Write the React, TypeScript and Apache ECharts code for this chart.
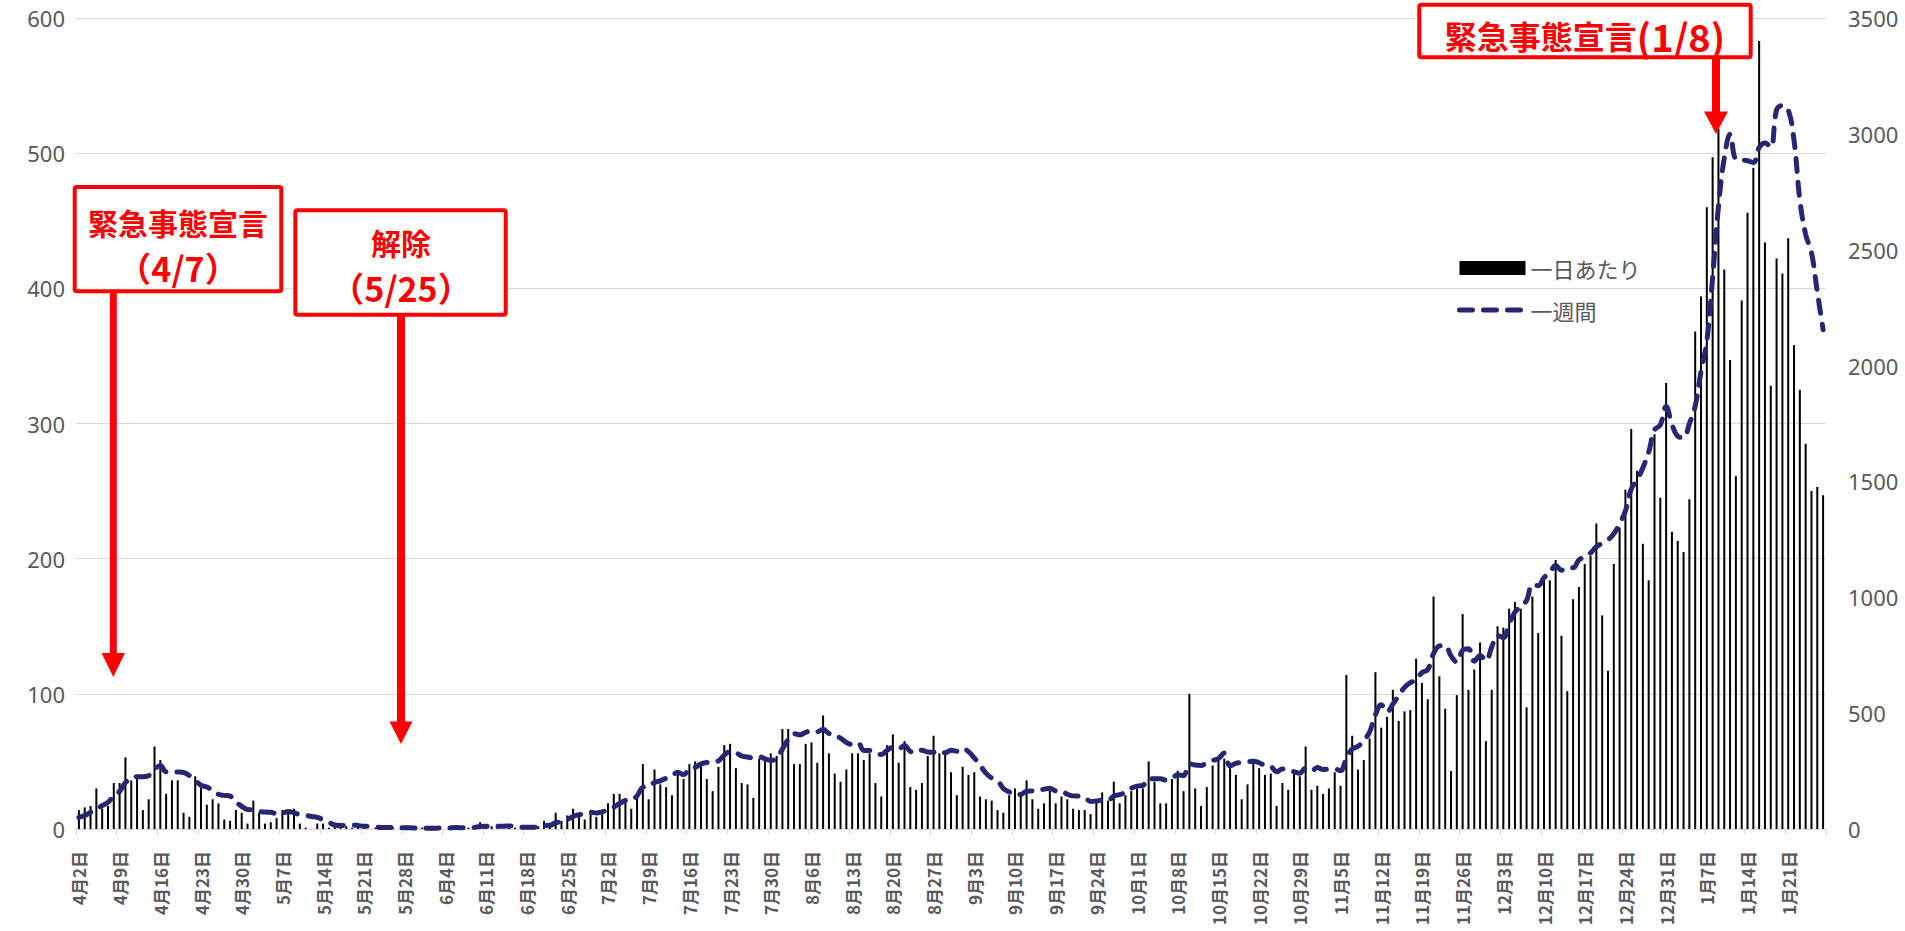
import React, { useEffect, useRef } from "react";
import * as echarts from "echarts";

// Date span: 2020-04-02 .. 2021-01-27 (one category per day)
const monthSpans: [number, number, number][] = [
  [4, 2, 30], [5, 1, 31], [6, 1, 30], [7, 1, 31], [8, 1, 31],
  [9, 1, 30], [10, 1, 31], [11, 1, 30], [12, 1, 31], [1, 1, 27],
];
const categories: string[] = [];
monthSpans.forEach(([m, from, to]) => {
  for (let d = from; d <= to; d++) categories.push(`${m}月${d}日`);
});

// Daily cases (left axis), by month
const dailyApr = [14,16,17,30,15,17,34,34,53,36,37,14,22,61,51,26,36,36,12,9,39,31,18,22,19,7,6,14,12];
const dailyMay = [4,21,12,4,5,8,14,12,15,4,1,0,4,4,1,3,2,2,1,2,1,0,1,0,2,1,0,1,0,0,1];
const dailyJun = [0,1,1,0,2,1,0,1,2,5,1,2,1,0,2,1,1,1,2,2,6,3,12,6,10,15,10,7,12,9];
const dailyJul = [11,19,26,26,20,15,26,48,22,44,33,31,25,42,37,48,50,48,37,28,46,62,63,45,34,33,23,52,53,56,54];
const dailyAug = [74,74,48,48,63,64,49,84,56,41,35,44,56,56,51,56,34,24,62,70,49,65,31,29,34,54,69,56,56,42,25];
const dailySep = [46,40,42,24,22,21,14,12,25,30,25,36,22,15,19,29,19,24,22,15,14,14,11,21,27,21,35,19,25,28];
const dailyOct = [30,30,50,35,19,19,37,43,28,100,30,17,31,47,51,52,45,40,22,33,49,45,40,41,17,34,29,41,39,61,29];
const dailyNov = [32,26,30,42,32,114,69,44,51,67,116,75,83,103,80,87,88,126,108,96,172,113,89,43,99,159,103,118,138,65];
const dailyDec = [103,150,149,163,168,163,90,172,145,184,184,199,143,102,170,179,196,202,226,158,117,196,223,251,296,265,211,184,292,245,330];
const dailyJan = [220,213,205,244,368,394,460,497,518,414,347,261,391,456,489,583,434,328,422,411,437,358,325,285,250,253,247];

// Weekly totals (right axis), by month
const weeklyApr = [50,58,72,86,101,115,143,163,200,219,226,225,230,257,274,247,247,246,244,231,209,189,181,167,150,145,142,117,98];
const weeklyMay = [84,83,76,73,72,66,68,76,70,62,59,54,50,40,29,17,15,16,17,15,12,11,9,7,7,7,5,5,5,4,5];
const weeklyJun = [3,3,4,3,5,6,5,6,7,11,12,12,12,12,13,12,8,8,8,9,15,16,27,32,41,54,62,63,72,69];
const weeklyJul = [74,83,94,110,123,126,143,180,183,201,208,219,229,245,234,260,266,281,287,290,294,319,334,329,315,311,306,312,303,296,305];
const weeklyAug = [345,386,411,407,417,425,420,430,412,405,392,373,365,372,339,339,332,321,339,353,346,360,335,330,340,332,331,338,329,340,336];
const weeklySep = [348,334,307,275,241,220,209,175,160,148,149,163,164,165,172,176,165,164,150,143,142,137,119,121,124,123,143,148,159,176];
const weeklyOct = [185,188,217,217,217,211,220,233,231,281,276,274,286,296,304,328,273,283,288,290,292,286,274,270,247,259,255,247,241,262,250];
const weeklyNov = [265,257,258,259,252,305,345,357,382,419,493,536,505,539,575,611,632,642,675,688,757,790,792,747,720,771,778,724,749,725];
const weeklyDec = [785,836,826,886,936,961,986,1055,1050,1085,1106,1137,1117,1129,1127,1161,1173,1191,1218,1233,1248,1274,1318,1373,1467,1506,1559,1626,1722,1744,1823];
const weeklyJan = [1747,1695,1689,1749,1825,1974,2104,2381,2686,2895,2998,2891,2888,2884,2876,2941,2961,2942,3103,3123,3104,2973,2715,2566,2488,2319,2155];

const daily = [
  ...dailyApr, ...dailyMay, ...dailyJun, ...dailyJul, ...dailyAug,
  ...dailySep, ...dailyOct, ...dailyNov, ...dailyDec, ...dailyJan,
];
const weekly = [
  ...weeklyApr, ...weeklyMay, ...weeklyJun, ...weeklyJul, ...weeklyAug,
  ...weeklySep, ...weeklyOct, ...weeklyNov, ...weeklyDec, ...weeklyJan,
];

const seriesNames = ["一日あたり", "一週間"];

const RED = "#FF0000";
const GRAY = "#595959";
const NAVY = "#262673";
const JP = '"Noto Sans CJK JP", "Noto Sans", sans-serif';
const NUM = '"Noto Sans", "Open Sans", sans-serif';
const DASH = [13, 11];

function arrow(cx: number, y0: number, headTop: number, tip: number, shaftW: number, headW: number) {
  return [
    {
      type: "rect",
      shape: { x: cx - shaftW / 2, y: y0, width: shaftW, height: headTop - y0 + 1 },
      style: { fill: RED },
      z: 100,
    },
    {
      type: "polygon",
      shape: { points: [[cx - headW / 2, headTop], [cx + headW / 2, headTop], [cx, tip]] },
      style: { fill: RED },
      z: 100,
    },
  ];
}

function box(x: number, y: number, w: number, h: number) {
  return {
    type: "rect",
    shape: { x, y, width: w, height: h, r: 2 },
    style: { fill: "#ffffff", stroke: RED, lineWidth: 4 },
    z: 100,
  };
}

function label(x: number, y: number, text: string, size: number) {
  return {
    type: "text",
    x,
    y,
    style: {
      text,
      fill: RED,
      fontSize: size,
      fontWeight: "bold",
      fontFamily: JP,
      align: "center",
      verticalAlign: "middle",
    },
    z: 101,
  };
}

export default function App() {
  const ref = useRef<HTMLDivElement>(null);

  useEffect(() => {
    if (!ref.current) return;
    const chart = echarts.init(ref.current, undefined, { renderer: "svg" });
    chart.setOption({
      animation: false,
      backgroundColor: "#ffffff",
      grid: { left: 76, right: 79, top: 18, bottom: 102, containLabel: false },
      legend: {
        orient: "vertical",
        left: 1452,
        top: 252,
        itemWidth: 66,
        itemHeight: 14,
        itemGap: 20,
        data: [
          { name: seriesNames[0], icon: "rect" },
          {
            name: seriesNames[1],
            itemStyle: { color: "rgba(0,0,0,0)", borderColor: "rgba(0,0,0,0)", borderWidth: 0 },
            lineStyle: { color: NAVY, width: 5, type: DASH, cap: "round" },
          },
        ],
        textStyle: { fontSize: 22, color: GRAY, fontFamily: JP },
      },
      xAxis: {
        type: "category",
        data: categories,
        boundaryGap: true,
        axisLine: { lineStyle: { color: "#d9d9d9", width: 1 } },
        axisTick: { show: true, interval: 6, length: 6, lineStyle: { color: "#d9d9d9" } },
        axisLabel: {
          interval: 6,
          rotate: 90,
          margin: 22,
          fontSize: 17,
          fontWeight: "bold",
          color: GRAY,
          fontFamily: JP,
        },
        splitLine: { show: false },
      },
      yAxis: [
        {
          type: "value",
          min: 0,
          max: 600,
          interval: 100,
          axisLine: { show: false },
          axisTick: { show: false },
          axisLabel: { fontSize: 22, color: GRAY, margin: 11, fontFamily: NUM },
          splitLine: { lineStyle: { color: "#d9d9d9", width: 1 } },
        },
        {
          type: "value",
          min: 0,
          max: 3500,
          interval: 500,
          position: "right",
          axisLine: { show: false },
          axisTick: { show: false },
          axisLabel: {
            fontSize: 22,
            color: GRAY,
            margin: 22,
            fontFamily: NUM,
            formatter: (v: number) => String(v),
          },
          splitLine: { show: false },
        },
      ],
      series: [
        {
          name: seriesNames[0],
          type: "bar",
          yAxisIndex: 0,
          data: daily,
          barWidth: 2,
          itemStyle: { color: "#000000" },
          z: 2,
        },
        {
          name: seriesNames[1],
          type: "line",
          yAxisIndex: 1,
          data: weekly,
          smooth: 0.4,
          symbol: "none",
          itemStyle: { color: NAVY },
          lineStyle: { color: NAVY, width: 5, type: DASH, cap: "round" },
          z: 3,
        },
      ],
      graphic: [
        ...arrow(113.3, 290, 653, 677, 7, 23.5),
        box(74.7, 187, 206.6, 104.3),
        label(178, 222, "緊急事態宣言", 30),
        label(178, 267, "（4/7）", 34),

        ...arrow(401, 314, 721.5, 744, 8, 23),
        box(295.3, 210.3, 210.4, 104.4),
        label(401, 242, "解除", 30),
        label(401, 287, "（5/25）", 34),

        ...arrow(1716, 57, 111.5, 134, 8, 24),
        box(1419.3, 4.7, 331.4, 52.6),
        {
          type: "text",
          x: 1585,
          y: 35,
          style: {
            text: "{a|緊急事態宣言}{b|(1/8)}",
            align: "center",
            verticalAlign: "middle",
            rich: {
              a: { fill: RED, fontSize: 32, fontWeight: "bold", fontFamily: JP },
              b: { fill: RED, fontSize: 38, fontWeight: "bold", fontFamily: JP },
            },
          },
          z: 101,
        },
      ],
    });
    return () => chart.dispose();
  }, []);

  return (
    <div
      ref={ref}
      style={{ position: "fixed", left: 0, top: 0, width: 1905, height: 931, background: "#fff" }}
    />
  );
}
